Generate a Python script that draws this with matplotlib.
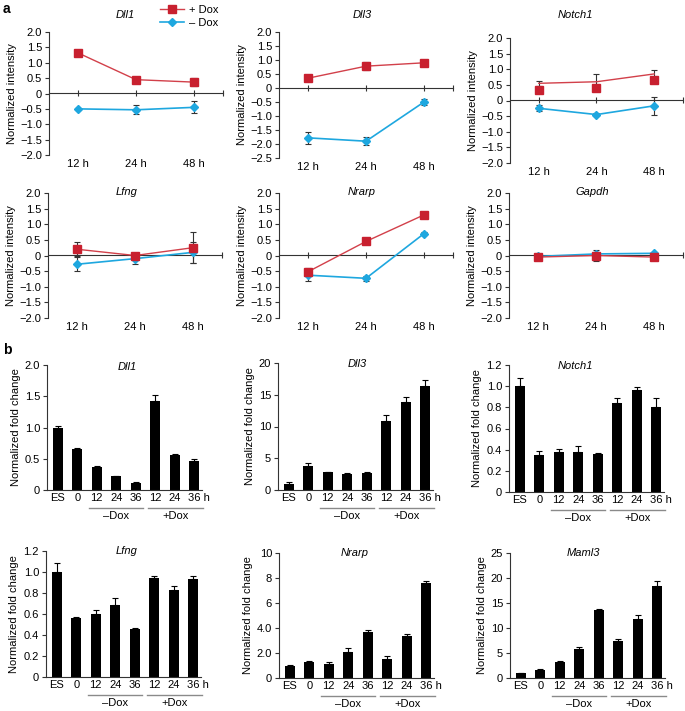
import matplotlib
matplotlib.use('Agg')
import matplotlib.pyplot as plt
import matplotlib.transforms as mtransforms
from matplotlib.ticker import FuncFormatter, MultipleLocator
from matplotlib.lines import Line2D

plt.rcParams['font.family'] = ['Liberation Sans', 'DejaVu Sans']
plt.rcParams['font.size'] = 8
plt.rcParams['axes.unicode_minus'] = True

# ---- panel a: microarray time course ----
times = ['12 h', '24 h', '48 h']
genes_a = ['Dll1', 'Dll3', 'Notch1', 'Lfng', 'Nrarp', 'Gapdh']
a_plus = [[1.32, 0.45, 0.37], [0.35, 0.78, 0.90], [0.55, 0.60, 0.85],
          [0.20, 0.00, 0.25], [-0.52, 0.45, 1.30], [-0.05, 0.00, -0.05]]
a_plus_err = [[0.04, 0.08, 0.12], [0.04, 0.15, 0.05], [0.07, 0.25, 0.13],
              [0.22, 0.05, 0.50], [0.12, 0.05, 0.08], [0.03, 0.18, 0.03]]
# Notch1 +Dox squares sit below the line in the original figure
notch1_plus_marker = [0.35, 0.40, 0.65]
a_minus = [[-0.50, -0.53, -0.45], [-1.78, -1.90, -0.50], [-0.25, -0.45, -0.17],
           [-0.28, -0.10, 0.10], [-0.63, -0.73, 0.70], [-0.03, 0.05, 0.07]]
a_minus_err = [[0.03, 0.15, 0.20], [0.22, 0.15, 0.12], [0.10, 0.05, 0.28],
               [0.22, 0.18, 0.33], [0.20, 0.08, 0.05], [0.03, 0.03, 0.03]]
a_ylim = [(-2.0, 2.0), (-2.5, 2.0), (-2.0, 2.0), (-2.0, 2.0), (-2.0, 2.0), (-2.0, 2.0)]

# ---- panel b: qPCR fold change ----
samples = ['ES', '0', '12', '24', '36', '12', '24', '36 h']
genes_b = ['Dll1', 'Dll3', 'Notch1', 'Lfng', 'Nrarp', 'Maml3']
b_vals = [[1.00, 0.65, 0.37, 0.22, 0.12, 1.43, 0.56, 0.47],
          [1.0, 3.8, 2.8, 2.5, 2.7, 10.9, 13.8, 16.3],
          [1.00, 0.35, 0.38, 0.38, 0.36, 0.84, 0.96, 0.80],
          [1.00, 0.56, 0.60, 0.69, 0.46, 0.94, 0.83, 0.93],
          [1.00, 1.30, 1.15, 2.10, 3.65, 1.55, 3.40, 7.60],
          [1.0, 1.6, 3.2, 5.8, 13.6, 7.5, 11.8, 18.4]]
b_err = [[0.03, 0.03, 0.01, 0.01, 0.01, 0.09, 0.01, 0.02],
         [0.30, 0.40, 0.10, 0.10, 0.20, 0.90, 0.80, 1.00],
         [0.08, 0.04, 0.03, 0.05, 0.01, 0.05, 0.03, 0.09],
         [0.09, 0.01, 0.04, 0.06, 0.01, 0.02, 0.04, 0.03],
         [0.05, 0.08, 0.10, 0.30, 0.20, 0.20, 0.15, 0.20],
         [0.10, 0.20, 0.20, 0.50, 0.20, 0.40, 0.80, 1.00]]
b_ymax = [2.0, 20, 1.2, 1.2, 10, 25]
b_step = [0.5, 5, 0.2, 0.2, 2, 5]
groups = ['\u2013Dox', '+Dox']
group_span = [(1.6, 4.35), (4.65, 7.45)]

RED = '#c8202f'
RED_LINE = '#d2404a'
BLUE = '#1ea7df'
AXC = '#333333'

W, H = 685, 711
fig = plt.figure(figsize=(W / 100, H / 100), dpi=100)


def px_axes(l, t, r, b):
    return fig.add_axes([l / W, 1 - b / H, (r - l) / W, (b - t) / H])


def fmt(v, pos):
    if abs(v) < 1e-9:
        return '0'
    s = f'{v:.1f}' if abs(v - round(v)) > 1e-9 or abs(v) < 5 else f'{v:.0f}'
    return s.replace('-', '\u2212')


def style_left(ax):
    for s in ['top', 'right', 'bottom']:
        ax.spines[s].set_visible(False)
    ax.spines['left'].set_color(AXC)
    ax.spines['left'].set_linewidth(0.8)
    ax.tick_params(axis='y', direction='out', length=3, width=0.8, color=AXC, pad=2)


a_rects = [(49, 32, 223, 155), (279, 32, 453, 158), (510, 38, 683, 163),
           (48, 193, 222, 318), (279, 193, 453, 318), (509, 193, 683, 318)]
a_titles = [(125, 15), (362, 15), (575, 15), (127, 192), (362, 192), (592, 192)]

x = list(range(len(times)))
for i, g in enumerate(genes_a):
    ax = px_axes(*a_rects[i])
    lo, hi = a_ylim[i]
    ax.set_xlim(-0.5, 2.5)
    ax.set_ylim(lo, hi)
    style_left(ax)
    ax.yaxis.set_major_locator(MultipleLocator(0.5))
    ax.yaxis.set_major_formatter(FuncFormatter(fmt))
    ax.set_xticks(x, times)
    ax.tick_params(axis='x', length=0, pad=3)
    ax.set_ylabel('Normalized intensity', labelpad=2)

    # zero line with tick marks
    sec = ax.secondary_xaxis((0 - lo) / (hi - lo))
    sec.set_xticks([0, 1, 2, 2.5])
    sec.tick_params(direction='inout', length=5, width=0.8, color=AXC,
                    labelbottom=False, labeltop=False)
    for s in sec.spines.values():
        s.set_color(AXC)
        s.set_linewidth(0.8)

    ax.errorbar(x, a_minus[i], yerr=a_minus_err[i], fmt='none', ecolor='#333333',
                elinewidth=0.8, capsize=2, capthick=0.8, zorder=3)
    ax.plot(x, a_minus[i], color=BLUE, lw=1.2, marker='D', ms=4.2,
            mfc=BLUE, mec=BLUE, zorder=4)
    ax.errorbar(x, a_plus[i], yerr=a_plus_err[i], fmt='none', ecolor='#333333',
                elinewidth=0.8, capsize=2, capthick=0.8, zorder=3)
    if g == 'Notch1':
        ax.plot(x, a_plus[i], color=RED_LINE, lw=1.0, zorder=4)
        ax.plot(x, notch1_plus_marker, ls='none', marker='s', ms=6,
                mfc=RED, mec=RED, zorder=5)
    else:
        ax.plot(x, a_plus[i], color=RED_LINE, lw=1.0, marker='s', ms=6,
                mfc=RED, mec=RED, zorder=5)
    fig.text(a_titles[i][0] / W, 1 - a_titles[i][1] / H, g, style='italic',
             ha='center', va='center')

handles = [Line2D([], [], color=RED_LINE, lw=1.0, marker='s', ms=6, mfc=RED, mec=RED),
           Line2D([], [], color=BLUE, lw=1.2, marker='D', ms=4.2, mfc=BLUE, mec=BLUE)]
fig.legend(handles, ['+ Dox', '\u2013 Dox'], loc='upper left',
           bbox_to_anchor=(152 / W, 1 + 3 / H), frameon=False, handlelength=2.2,
           handletextpad=0.4, labelspacing=0.3, borderpad=0.2, fontsize=8)

b_rects = [(47, 365, 202, 490), (278, 363, 433, 490), (509, 365, 664, 492),
           (46, 551, 201, 677), (279, 553, 434, 678), (510, 553, 665, 678)]
b_titles = [(127, 367), (357, 364), (575, 366), (127, 551), (355, 553), (583, 553)]

xb = list(range(len(samples)))
for i, g in enumerate(genes_b):
    ax = px_axes(*b_rects[i])
    ax.set_xlim(-0.55, 7.4)
    ax.set_ylim(0, b_ymax[i])
    style_left(ax)
    ax.spines['bottom'].set_visible(True)
    ax.spines['bottom'].set_color(AXC)
    ax.spines['bottom'].set_linewidth(0.8)
    ax.yaxis.set_major_locator(MultipleLocator(b_step[i]))
    ax.yaxis.set_major_formatter(FuncFormatter(fmt))
    ax.bar(xb, b_vals[i], width=0.52, color='black', zorder=2)
    ax.errorbar(xb, b_vals[i], yerr=[[0] * len(xb), b_err[i]], fmt='none',
                ecolor='black', elinewidth=0.8, capsize=2, capthick=0.8, zorder=3)
    ax.set_xticks(xb, samples)
    ax.tick_params(axis='x', length=0, pad=2)
    last = ax.get_xticklabels()[-1]
    last.set_ha('left')
    last.set_transform(last.get_transform() +
                       mtransforms.ScaledTranslation(-0.058, 0, fig.dpi_scale_trans))
    ax.set_ylabel('Normalized fold change', labelpad=3)

    base = mtransforms.blended_transform_factory(ax.transData, ax.transAxes)
    line_tr = base + mtransforms.ScaledTranslation(0, -0.175, fig.dpi_scale_trans)
    text_tr = base + mtransforms.ScaledTranslation(0, -0.26, fig.dpi_scale_trans)
    for name, (x0, x1) in zip(groups, group_span):
        ax.plot([x0, x1], [0, 0], color='#8a8a8a', lw=1.0, transform=line_tr,
                clip_on=False)
        ax.text((x0 + x1) / 2, 0, name, ha='center', va='center', transform=text_tr)
    fig.text(b_titles[i][0] / W, 1 - b_titles[i][1] / H, g, style='italic',
             ha='center', va='center')

fig.text(3 / W, 1 - 9 / H, 'a', fontweight='bold', fontsize=10, va='center')
fig.text(3 / W, 1 - 350 / H, 'b', fontweight='bold', fontsize=10, va='center')

fig.savefig('out.png', dpi=100)
